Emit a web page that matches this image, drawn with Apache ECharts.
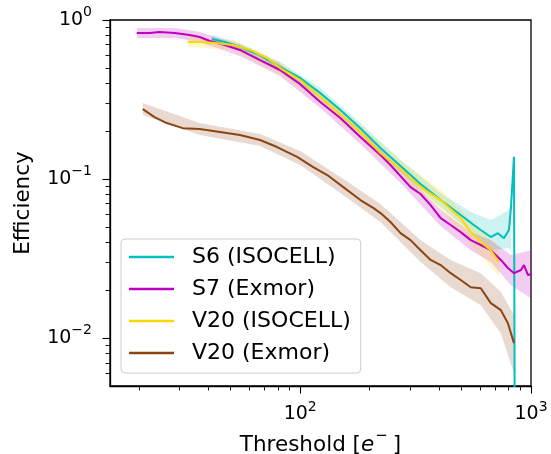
<!DOCTYPE html>
<html>
<head>
<meta charset="utf-8">
<script src="https://cdn.jsdelivr.net/npm/echarts@6/dist/echarts.min.js"></script>
<style>
  html, body { margin: 0; padding: 0; background: #fff; }
  #chart { width: 551px; height: 454px; }
</style>
</head>
<body>
<div id="chart"></div>
<script>
// data (threshold in e-, efficiency)
const names = ['S6 (ISOCELL)', 'S7 (Exmor)', 'V20 (ISOCELL)', 'V20 (Exmor)'];
const colors = ['#00bfbf', '#bf00bf', '#ffd700', '#8b4513'];

const s6X = [41.4, 47.2, 54.8, 67.0, 81.8, 100, 122.2, 149.3, 182.3, 222.8, 272.1, 332.4, 406.1, 496.0, 565.1, 606, 669.8, 718.7, 763.2, 802.4, 818.5, 843.7, 852.0];
const s6Y = [0.759, 0.727, 0.676, 0.602, 0.506, 0.432, 0.347, 0.272, 0.209, 0.1567, 0.1207, 0.0930, 0.0738, 0.0594, 0.0514, 0.0478, 0.0432, 0.0457, 0.0425, 0.0478, 0.0657, 0.138, 0.001];
const s6BandX = [41.4, 54.8, 81.8, 122.2, 182.3, 272.1, 406.1, 548.3, 669.8, 802.4, 818.5];
const s6BandHi = [0.805, 0.717, 0.544, 0.374, 0.225, 0.132, 0.0816, 0.0620, 0.0552, 0.0638, 0.0686];
const s6BandLo = [0.717, 0.638, 0.471, 0.323, 0.195, 0.1107, 0.0667, 0.0464, 0.0357, 0.0368, 0.0347];

const s7X = [19.6, 22.3, 24.6, 28.6, 33.2, 36.7, 40.6, 47.2, 54.8, 67.0, 81.8, 100, 122.2, 149.3, 182.3, 222.8, 246.2, 272.1, 300.7, 332.4, 367.4, 406.1, 448.8, 496.0, 548.3, 606.0, 669.8, 740.3, 794.3, 843.7, 904.5, 932.3, 970.4, 1000];
const s7Y = [0.829, 0.829, 0.840, 0.829, 0.805, 0.782, 0.738, 0.696, 0.648, 0.560, 0.485, 0.395, 0.305, 0.242, 0.184, 0.1416, 0.1225, 0.1044, 0.089, 0.0805, 0.0686, 0.0568, 0.0514, 0.0464, 0.0413, 0.0385, 0.0357, 0.031, 0.0276, 0.0256, 0.0268, 0.0288, 0.0249, 0.0253];
const s7BandX = [19.6, 28.6, 36.7, 54.8, 81.8, 122.2, 182.3, 272.1, 406.1, 548.3, 669.8, 818.5, 1000];
const s7BandHi = [0.891, 0.891, 0.840, 0.696, 0.529, 0.333, 0.203, 0.1156, 0.0638, 0.0464, 0.0413, 0.0333, 0.0357];
const s7BandLo = [0.770, 0.770, 0.727, 0.594, 0.444, 0.280, 0.166, 0.0944, 0.0506, 0.0357, 0.0301, 0.0215, 0.0178];

const v20iX = [32.6, 36.7, 42.7, 51.1, 60.7, 71.9, 81.8, 100, 122.2, 149.3, 182.3, 222.8, 272.1, 332.4, 406.1, 496, 548.3, 606, 669.8, 725.7];
const v20iY = [0.727, 0.727, 0.717, 0.696, 0.648, 0.577, 0.499, 0.419, 0.328, 0.256, 0.1975, 0.1457, 0.1156, 0.089, 0.0738, 0.0568, 0.0464, 0.0402, 0.0357, 0.0301];
const v20iBandX = [32.6, 51.1, 81.8, 122.2, 182.3, 272.1, 406.1, 548.3, 725.7];
const v20iBandHi = [0.782, 0.748, 0.544, 0.358, 0.2186, 0.132, 0.0853, 0.0552, 0.0368];
const v20iBandLo = [0.676, 0.648, 0.4575, 0.3006, 0.1785, 0.103, 0.0638, 0.039, 0.0245];

const v20eX = [20.8, 23.4, 26.4, 31.0, 36.7, 44.9, 54.8, 67.0, 79.4, 97.0, 113.9, 131.0, 153.8, 182.3, 207.9, 222.8, 246.2, 272.1, 300.7, 332.4, 367.4, 406.1, 448.8, 496, 548.3, 606, 669.8, 740.3, 794.3, 843.7];
const v20eY = [0.275, 0.2454, 0.225, 0.209, 0.2063, 0.1975, 0.189, 0.176, 0.159, 0.138, 0.119, 0.106, 0.089, 0.0738, 0.0657, 0.0611, 0.0537, 0.0457, 0.0413, 0.0357, 0.031, 0.0288, 0.0256, 0.0232, 0.0209, 0.0206, 0.0166, 0.015, 0.0124, 0.0093];
const v20eBandX = [20.8, 36.7, 67, 100, 149.3, 222.8, 332.4, 448.8, 606, 740.3, 843.7];
const v20eBandHi = [0.3006, 0.225, 0.1919, 0.150, 0.103, 0.0696, 0.0413, 0.031, 0.0256, 0.0195, 0.01395];
const v20eBandLo = [0.2527, 0.189, 0.1613, 0.1225, 0.0816, 0.0537, 0.0301, 0.0209, 0.0161, 0.0107, 0.00602];

const xMajorTicks = [100, 1000];
const xMinorTicks = [20, 30, 40, 50, 60, 70, 80, 90, 200, 300, 400, 500, 600, 700, 800, 900];
const yMajorTicks = [0.01, 0.1, 1];
const yMinorTicks = [0.006, 0.007, 0.008, 0.009, 0.02, 0.03, 0.04, 0.05, 0.06, 0.07, 0.08, 0.09, 0.2, 0.3, 0.4, 0.5, 0.6, 0.7, 0.8, 0.9];

const font = 'DejaVu Sans';

function powLabel(v) {
  const p = Math.round(Math.log10(v));
  return '{b|10}{sup|' + (p < 0 ? '\u2212' + (-p) : p) + '}';
}

function pairs(xs, ys) {
  return xs.map((x, i) => [x, ys[i]]);
}

function lineSeries(i, xs, ys) {
  return {
    name: names[i],
    type: 'line',
    data: pairs(xs, ys),
    symbol: 'none',
    showSymbol: false,
    lineStyle: { width: 2, color: colors[i] },
    itemStyle: { color: colors[i] },
    z: 3
  };
}

function bandSeries(i, xs, lo, hi) {
  return {
    name: names[i] + ' band',
    type: 'custom',
    silent: true,
    z: 2,
    data: [[xs[0], lo[0]]],
    renderItem: function (params, api) {
      const pts = [];
      for (let k = 0; k < xs.length; k++) pts.push(api.coord([xs[k], hi[k]]));
      for (let k = xs.length - 1; k >= 0; k--) pts.push(api.coord([xs[k], lo[k]]));
      const cs = params.coordSys;
      return {
        type: 'polygon',
        shape: { points: pts },
        style: { fill: colors[i], opacity: 0.2 },
        clipPath: { type: 'rect', shape: { x: cs.x, y: cs.y, width: cs.width, height: cs.height } }
      };
    }
  };
}

const chart = echarts.init(document.getElementById('chart'));

chart.setOption({
  animation: false,
  backgroundColor: '#fff',
  grid: {
    left: 110, right: 20, top: 20, bottom: 68,
    show: true, borderColor: '#000', borderWidth: 1.3,
    outerBoundsMode: 'none'
  },
  legend: {
    data: names,
    orient: 'vertical',
    left: 121, top: 239,
    icon: 'rect',
    itemWidth: 45, itemHeight: 2.5, itemGap: 8,
    padding: [6, 10, 8, 8],
    borderColor: '#cccccc', borderWidth: 1, borderRadius: 4,
    backgroundColor: 'rgba(255,255,255,0.8)',
    textStyle: { fontFamily: font, fontSize: 22, color: '#000', lineHeight: 24, padding: [0, 0, 0, 13] }
  },
  xAxis: [
    {
      type: 'log', min: 15, max: 1000, position: 'bottom',
      name: '{n|Threshold [}{it|e}{s|\u2212}{n|]}',
      nameLocation: 'middle', nameGap: 39,
      nameTextStyle: {
        rich: {
          n: { fontFamily: font, fontSize: 21.5, color: '#000', padding: [6, 0, 0, 0], verticalAlign: 'bottom' },
          it: { fontFamily: font, fontSize: 21.5, color: '#000', fontStyle: 'italic', padding: [6, 0, 0, 0], verticalAlign: 'bottom' },
          s: { fontFamily: font, fontSize: 15, color: '#000', verticalAlign: 'top', padding: [0, 5, 0, 1] }
        }
      },
      axisLine: { show: true, lineStyle: { color: '#000', width: 1.3 } },
      axisTick: { show: true, length: 7.5, customValues: xMajorTicks, lineStyle: { color: '#000', width: 1.1 } },
      axisLabel: {
        customValues: xMajorTicks, margin: 14, formatter: powLabel,
        rich: {
          b: { fontFamily: font, fontSize: 19, color: '#000', padding: [5, 0, 0, 0], verticalAlign: 'bottom' },
          sup: { fontFamily: font, fontSize: 14, color: '#000', verticalAlign: 'top' }
        }
      },
      splitLine: { show: false }
    },
    {
      type: 'log', min: 15, max: 1000, position: 'bottom',
      axisLine: { show: false },
      axisTick: { show: true, length: 4.5, customValues: xMinorTicks, lineStyle: { color: '#000', width: 0.9 } },
      axisLabel: { show: false },
      splitLine: { show: false }
    }
  ],
  yAxis: [
    {
      type: 'log', min: 0.005, max: 1, position: 'left',
      name: 'Efficiency', nameLocation: 'middle', nameGap: 76,
      nameTextStyle: { fontFamily: font, fontSize: 21.5, color: '#000' },
      axisLine: { show: true, lineStyle: { color: '#000', width: 1.3 } },
      axisTick: { show: true, length: 7.5, customValues: yMajorTicks, lineStyle: { color: '#000', width: 1.1 } },
      axisLabel: {
        customValues: yMajorTicks, margin: 18, formatter: powLabel,
        rich: {
          b: { fontFamily: font, fontSize: 19, color: '#000', padding: [5, 0, 5, 0], verticalAlign: 'bottom' },
          sup: { fontFamily: font, fontSize: 14, color: '#000', verticalAlign: 'top' }
        }
      },
      splitLine: { show: false }
    },
    {
      type: 'log', min: 0.005, max: 1, position: 'left',
      axisLine: { show: false },
      axisTick: { show: true, length: 4.5, customValues: yMinorTicks, lineStyle: { color: '#000', width: 0.9 } },
      axisLabel: { show: false },
      splitLine: { show: false }
    }
  ],
  series: [
    bandSeries(0, s6BandX, s6BandLo, s6BandHi),
    bandSeries(1, s7BandX, s7BandLo, s7BandHi),
    bandSeries(2, v20iBandX, v20iBandLo, v20iBandHi),
    bandSeries(3, v20eBandX, v20eBandLo, v20eBandHi),
    lineSeries(0, s6X, s6Y),
    lineSeries(1, s7X, s7Y),
    lineSeries(2, v20iX, v20iY),
    lineSeries(3, v20eX, v20eY)
  ]
});
</script>
</body>
</html>
